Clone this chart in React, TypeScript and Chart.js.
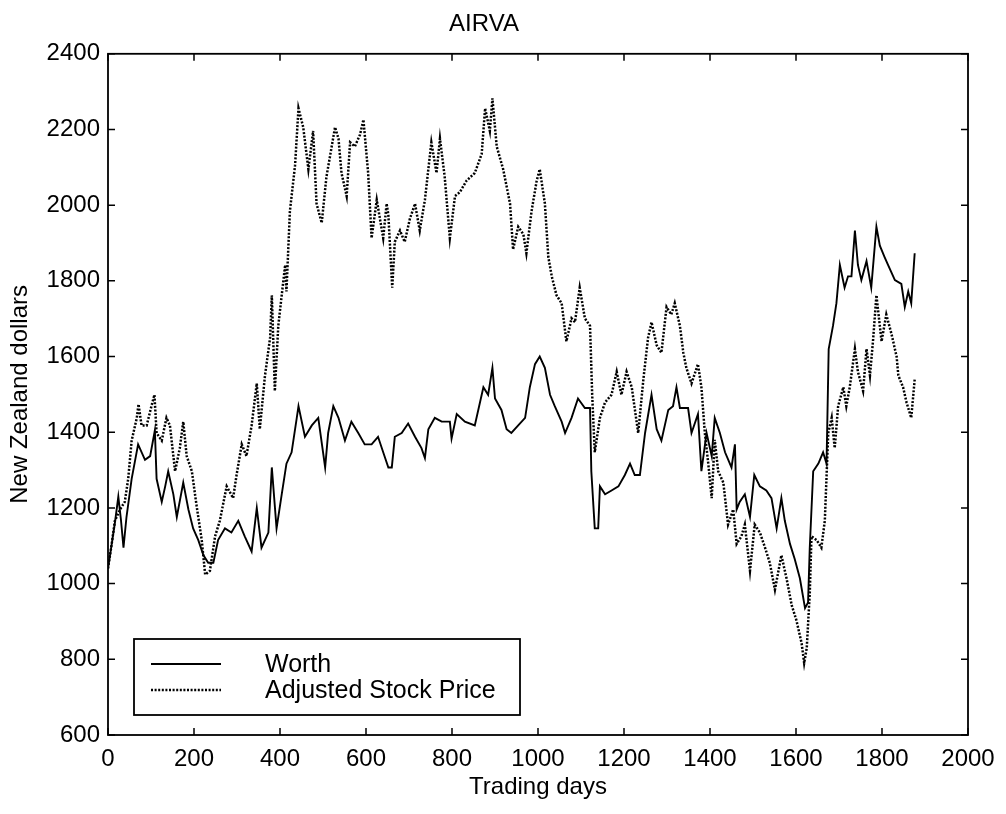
import React, { useEffect, useRef } from "react";
import { Chart, registerables } from "chart.js";

Chart.register(...registerables);

const chartTitle = "AIRVA";
const xTitle = "Trading days";
const yTitle = "New Zealand dollars";
const seriesNames = ["Worth", "Adjusted Stock Price"];

const xTicks = [0, 200, 400, 600, 800, 1000, 1200, 1400, 1600, 1800, 2000];
const yTicks = [600, 800, 1000, 1200, 1400, 1600, 1800, 2000, 2200, 2400];

const worthDays = [
  0, 8, 16, 24, 30, 36, 43, 55, 70, 86, 98, 109, 113, 125, 133, 140, 152, 160, 175, 187,
  198, 210, 222, 233, 245, 256, 272, 287, 303, 318, 334, 346, 357, 373, 381, 392, 404, 415, 427, 439,
  443, 458, 474, 489, 505, 512, 524, 536, 551, 566, 582, 597, 613, 628, 640, 652, 660, 667, 683, 698,
  714, 729, 737, 745, 760, 776, 795, 799, 811, 830, 853, 873, 884, 894, 900, 915, 927, 938, 954, 970,
  981, 993, 1004, 1016, 1028, 1039, 1055, 1063, 1078, 1093, 1109, 1121, 1124, 1132, 1140, 1144, 1156, 1171, 1187, 1202,
  1214, 1225, 1237, 1249, 1264, 1276, 1287, 1303, 1314, 1322, 1330, 1349, 1357, 1372, 1380, 1392, 1404, 1411, 1423, 1435,
  1450, 1458, 1462, 1469, 1481, 1493, 1503, 1516, 1531, 1543, 1555, 1566, 1574, 1586, 1597, 1609, 1621, 1628, 1632, 1640,
  1652, 1663, 1671, 1676, 1686, 1694, 1702, 1713, 1721, 1729, 1737, 1744, 1752, 1764, 1775, 1787, 1795, 1806, 1814, 1830,
  1845, 1853, 1861, 1868, 1876,
];
const worthValues = [
  1040, 1100, 1160, 1230, 1170, 1095, 1176, 1277, 1368, 1327, 1337, 1405, 1277, 1216, 1257, 1297, 1236, 1176, 1267, 1196,
  1146, 1115, 1075, 1055, 1055, 1115, 1146, 1135, 1166, 1125, 1085, 1200, 1095, 1135, 1307, 1146, 1236, 1317, 1347, 1438,
  1469, 1388, 1418, 1438, 1307, 1398, 1469, 1438, 1378, 1428, 1398, 1368, 1368, 1388, 1347, 1307, 1307, 1388, 1398, 1423,
  1388, 1358, 1332, 1408, 1438, 1428, 1428, 1383, 1448, 1428, 1418, 1519, 1499, 1570, 1489, 1459, 1408, 1398, 1418, 1438,
  1519, 1580, 1600, 1570, 1499, 1469, 1428, 1398, 1438, 1489, 1464, 1464, 1297, 1146, 1146, 1257, 1236, 1246, 1257, 1287,
  1317, 1287, 1287, 1398, 1499, 1408, 1378, 1459, 1469, 1519, 1464, 1464, 1398, 1448, 1297, 1398, 1337, 1438, 1398, 1347,
  1307, 1368, 1196, 1216, 1236, 1176, 1287, 1257, 1246, 1226, 1146, 1226, 1166, 1105, 1065, 1014, 935, 950, 1095, 1297,
  1317, 1347, 1317, 1620, 1681, 1741, 1842, 1782, 1812, 1812, 1933, 1842, 1802, 1852, 1782, 1943, 1893, 1863, 1842, 1802,
  1792, 1731, 1772, 1741, 1873,
];

const priceDays = [
  0, 8, 16, 28, 39, 47, 55, 67, 71, 78, 90, 101, 108, 113, 125, 136, 144, 156, 167, 175,
  183, 195, 206, 218, 226, 237, 249, 260, 276, 291, 299, 311, 322, 334, 346, 353, 365, 377, 381, 388,
  396, 404, 412, 415, 423, 435, 443, 454, 466, 477, 485, 497, 508, 528, 536, 543, 555, 563, 574, 586,
  594, 605, 613, 625, 640, 648, 652, 661, 667, 679, 690, 702, 714, 725, 737, 752, 764, 772, 783, 795,
  807, 818, 834, 853, 869, 877, 888, 894, 904, 919, 935, 942, 954, 966, 973, 985, 997, 1004, 1016, 1024,
  1032, 1043, 1055, 1066, 1078, 1086, 1097, 1109, 1121, 1126, 1132, 1144, 1156, 1171, 1183, 1194, 1206, 1218, 1233, 1245,
  1256, 1264, 1276, 1287, 1299, 1310, 1318, 1330, 1338, 1345, 1357, 1372, 1380, 1388, 1396, 1404, 1411, 1419, 1431, 1442,
  1454, 1462, 1473, 1481, 1493, 1504, 1516, 1528, 1539, 1551, 1566, 1578, 1590, 1601, 1613, 1619, 1625, 1632, 1636, 1648,
  1659, 1667, 1675, 1683, 1690, 1698, 1710, 1717, 1725, 1737, 1744, 1756, 1764, 1772, 1779, 1787, 1799, 1810, 1822, 1834,
  1838, 1849, 1857, 1868, 1876,
];
const priceValues = [
  1040, 1100, 1166, 1196, 1216, 1277, 1378, 1438, 1474, 1418, 1418, 1469, 1499, 1398, 1378, 1438, 1418, 1297, 1358, 1428,
  1337, 1297, 1206, 1115, 1024, 1034, 1125, 1166, 1257, 1226, 1287, 1368, 1337, 1418, 1529, 1408, 1549, 1650, 1762, 1509,
  1681, 1762, 1842, 1772, 1984, 2105, 2256, 2206, 2095, 2196, 2004, 1953, 2075, 2206, 2176, 2085, 2024, 2166, 2155, 2186,
  2226, 2085, 1913, 2014, 1913, 2004, 1974, 1782, 1903, 1933, 1903, 1964, 2004, 1933, 2014, 2166, 2085, 2176, 2075, 1913,
  2024, 2034, 2065, 2085, 2135, 2256, 2196, 2282, 2155, 2095, 2004, 1883, 1943, 1923, 1873, 1984, 2065, 2095, 2004, 1863,
  1812, 1762, 1741, 1640, 1701, 1691, 1782, 1701, 1681, 1499, 1347, 1438, 1479, 1499, 1560, 1499, 1560, 1519, 1398, 1539,
  1650, 1691, 1630, 1610, 1731, 1711, 1741, 1681, 1610, 1570, 1529, 1580, 1519, 1398, 1317, 1226, 1380, 1297, 1267, 1156,
  1196, 1105, 1125, 1156, 1034, 1156, 1135, 1095, 1055, 984, 1075, 1014, 943, 903, 843, 790, 830, 974, 1125, 1115,
  1095, 1166, 1398, 1438, 1358, 1469, 1519, 1469, 1519, 1620, 1560, 1509, 1620, 1550, 1640, 1762, 1640, 1711, 1660, 1600,
  1550, 1519, 1479, 1438, 1539,
];

const FONT = "'Liberation Sans', Arial, Helvetica, sans-serif";

const framePlugin = {
  id: "matlabFrame",
  afterDraw(chart: any) {
    const { ctx, chartArea } = chart;
    const { left, right, top, bottom } = chartArea;
    const xs = chart.scales.x;
    const ys = chart.scales.y;
    ctx.save();
    ctx.strokeStyle = "#000";
    ctx.lineWidth = 1.8;
    ctx.setLineDash([]);
    ctx.strokeRect(left, top, right - left, bottom - top);
    ctx.lineWidth = 1.5;
    const tl = 7;
    ctx.beginPath();
    xTicks.forEach((v) => {
      const px = xs.getPixelForValue(v);
      ctx.moveTo(px, bottom);
      ctx.lineTo(px, bottom - tl);
      ctx.moveTo(px, top);
      ctx.lineTo(px, top + tl);
    });
    yTicks.forEach((v) => {
      const py = ys.getPixelForValue(v);
      ctx.moveTo(left, py);
      ctx.lineTo(left + tl, py);
      ctx.moveTo(right, py);
      ctx.lineTo(right - tl, py);
    });
    ctx.stroke();

    // legend box inside the axes, lower left
    const bx = left + 26;
    const by = bottom - 96;
    const bw = 386;
    const bh = 76;
    ctx.fillStyle = "#fff";
    ctx.fillRect(bx, by, bw, bh);
    ctx.lineWidth = 1.8;
    ctx.strokeRect(bx, by, bw, bh);
    const rows = [by + 25, by + 51];
    chart.data.datasets.forEach((ds: any, i: number) => {
      const y = rows[i];
      ctx.beginPath();
      ctx.lineWidth = ds.borderWidth;
      ctx.setLineDash(ds.borderDash || []);
      ctx.moveTo(bx + 17, y);
      ctx.lineTo(bx + 87, y);
      ctx.stroke();
      ctx.setLineDash([]);
      ctx.fillStyle = "#000";
      ctx.font = `25px ${FONT}`;
      ctx.textBaseline = "middle";
      ctx.textAlign = "left";
      ctx.fillText(ds.label, bx + 131, y + 1);
    });
    ctx.restore();
  },
};

export default function App() {
  const ref = useRef<HTMLCanvasElement | null>(null);

  useEffect(() => {
    document.body.style.margin = "0";
    document.body.style.overflow = "hidden";
    if (!ref.current) return;
    const chart = new Chart(ref.current, {
      type: "line",
      data: {
        datasets: [
          {
            label: seriesNames[0],
            data: worthDays.map((d, i) => ({ x: d, y: worthValues[i] })),
            borderColor: "#000",
            borderWidth: 1.9,
            pointRadius: 0,
            tension: 0,
            fill: false,
          },
          {
            label: seriesNames[1],
            data: priceDays.map((d, i) => ({ x: d, y: priceValues[i] })),
            borderColor: "#000",
            borderWidth: 2.5,
            borderDash: [2, 1.6],
            pointRadius: 0,
            tension: 0,
            fill: false,
          },
        ],
      },
      options: {
        animation: false,
        responsive: false,
        maintainAspectRatio: false,
        layout: { padding: { left: 0, right: 38, top: 0, bottom: 0 } },
        plugins: {
          legend: { display: false },
          tooltip: { enabled: false },
          title: {
            display: true,
            text: chartTitle,
            color: "#000",
            font: { family: FONT, size: 24, weight: "normal" },
            padding: { top: 10, bottom: 15 },
          },
        },
        scales: {
          x: {
            type: "linear",
            min: 0,
            max: 2000,
            afterFit: (s: any) => {
              s.height = 79;
            },
            afterBuildTicks: (s: any) => {
              s.ticks = xTicks.map((v) => ({ value: v }));
            },
            grid: { display: false, drawTicks: false },
            border: { display: false },
            ticks: {
              color: "#000",
              padding: 10,
              maxRotation: 0,
              autoSkip: false,
              font: { family: FONT, size: 24 },
              callback: (v: any) => String(v),
            },
            title: {
              display: true,
              text: xTitle,
              color: "#000",
              font: { family: FONT, size: 24 },
              padding: { top: 0, bottom: 12 },
            },
          },
          y: {
            type: "linear",
            min: 600,
            max: 2400,
            afterFit: (s: any) => {
              s.width = 108;
            },
            afterBuildTicks: (s: any) => {
              s.ticks = yTicks.map((v) => ({ value: v }));
            },
            grid: { display: false, drawTicks: false },
            border: { display: false },
            ticks: {
              color: "#000",
              padding: 8,
              autoSkip: false,
              font: { family: FONT, size: 24 },
              callback: (v: any) => String(v),
            },
            title: {
              display: true,
              text: yTitle,
              color: "#000",
              font: { family: FONT, size: 24 },
              padding: { top: 6, bottom: 0 },
            },
          },
        },
      },
      plugins: [framePlugin],
    });
    return () => chart.destroy();
  }, []);

  return (
    <div style={{ width: 1006, height: 814, background: "#fff" }}>
      <canvas ref={ref} width={1006} height={814} style={{ display: "block" }} />
    </div>
  );
}
